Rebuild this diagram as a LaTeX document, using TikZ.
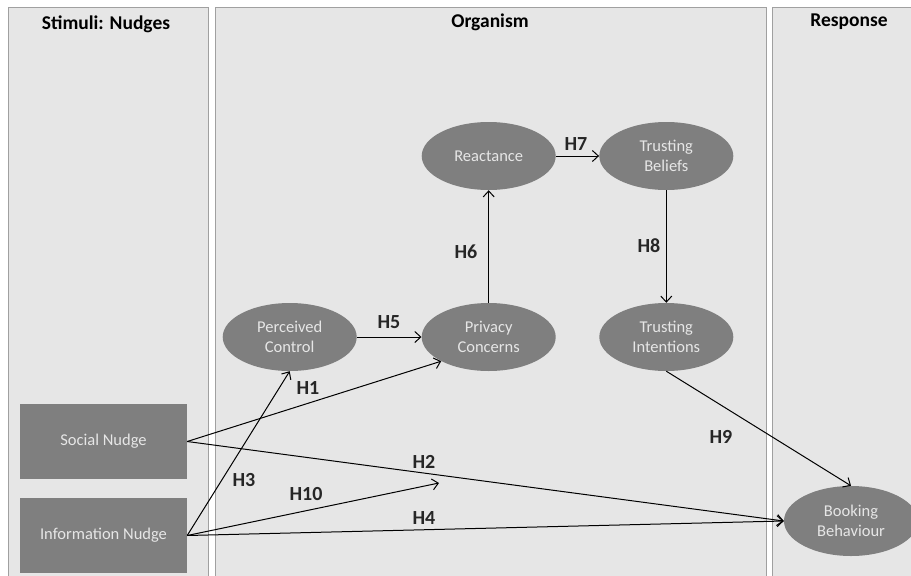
\documentclass[tikz,border=0pt]{standalone}
\usepackage{fontspec}
\setmainfont{Carlito}
\usetikzlibrary{arrows.meta,shapes.geometric}
\definecolor{panelfill}{HTML}{E6E6E6}
\definecolor{panelline}{HTML}{A0A0A0}
\definecolor{nodefill}{HTML}{7F7F7F}
\definecolor{nodetext}{HTML}{E6E6E6}
\tikzset{
  panel/.style={draw=panelline, line width=0.8pt, fill=panelfill},
  header/.style={font=\fontsize{19.5}{22}\selectfont\bfseries, text=black},
  ell/.style={ellipse, fill=nodefill, text=nodetext, minimum width=134pt, minimum height=68pt, inner sep=0pt, align=center, font=\fontsize{16.5}{20}\selectfont},
  rbox/.style={rectangle, fill=nodefill, text=nodetext, minimum width=167pt, minimum height=75pt, inner sep=0pt, font=\fontsize{16.5}{20}\selectfont},
  conn/.style={-{Straight Barb[length=6pt,width=11pt]}, line width=1pt, black},
  hlab/.style={font=\fontsize{20}{22}\selectfont\bfseries, text=black!85}
}
\begin{document}
\begin{tikzpicture}[x=1pt,y=-1pt]
\useasboundingbox (0,0) rectangle (911,576);
% panels
\draw[panel] (8,7) rectangle (208,590);
\draw[panel] (215,7) rectangle (766.5,590);
\draw[panel] (772.5,7) rectangle (925,590);
\node[header] (h1) at (106,24) {Stimuli: Nudges};
\node[header] (h2) at (490,22) {Organism};
\node[header] (h3) at (849,22) {Response};
% nodes
\node[rbox] (sn) at (103.5,441.5) {Social Nudge};
\node[rbox] (in) at (103.5,535.5) {Information Nudge};
\node[ell] (pc) at (289.7,337) {Perceived\\Control};
\node[ell] (pv) at (488.7,337) {Privacy\\Concerns};
\node[ell] (re) at (488.7,156) {Reactance};
\node[ell] (tb) at (666.3,156) {Trusting\\Beliefs};
\node[ell] (ti) at (666.3,337) {Trusting\\Intentions};
\node[ell, minimum height=70pt] (bb) at (851,521) {Booking\\Behaviour};
\coordinate (h10end) at (439,483);
% connectors
\draw[conn] (pc.east) -- (pv.west);
\draw[conn] (pv.north) -- (re.south);
\draw[conn] (re.east) -- (tb.west);
\draw[conn] (tb.south) -- (ti.north);
\draw[conn] (ti.south) -- (bb.north);
\draw[conn] (sn.east) -- (pv.-153);
\draw[conn] (sn.east) -- (bb.west);
\draw[conn] (in.east) -- (pc.south);
\draw[conn] (in.east) -- (h10end);
\draw[conn] (in.east) -- (bb.west);
% labels
\node[hlab] (l5) at (389,322) {H5};
\node[hlab] (l6) at (466,252) {H6};
\node[hlab] (l7) at (576,144) {H7};
\node[hlab] (l8) at (649,246) {H8};
\node[hlab] (l9) at (721,437) {H9};
\node[hlab] (l1) at (308,388) {H1};
\node[hlab] (l2) at (424,462) {H2};
\node[hlab] (l3) at (244,480) {H3};
\node[hlab] (l10) at (306,494) {H10};
\node[hlab] (l4) at (424,518) {H4};
\end{tikzpicture}
\end{document}
